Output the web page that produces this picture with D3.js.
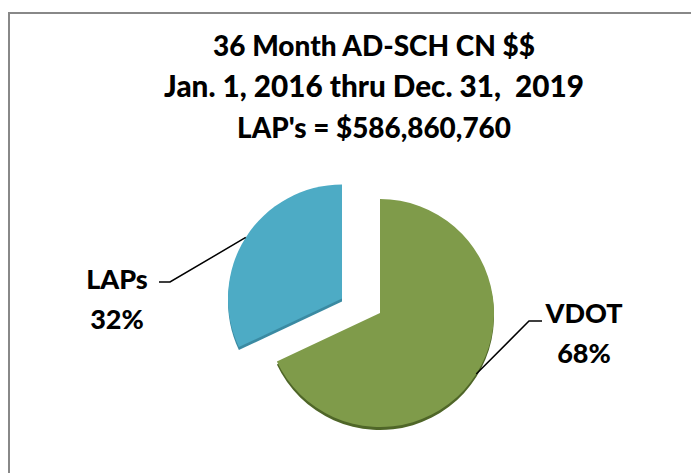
<!DOCTYPE html>
<html>
<head>
<meta charset="utf-8">
<script src="https://cdn.jsdelivr.net/npm/d3@7"></script>
<style>
  body { margin: 0; background: #fff; }
  text { font-family: Lato, "Open Sans", sans-serif; font-weight: 900; fill: #000; white-space: pre; }
</style>
</head>
<body>
<div id="container"></div>
<script>
/* CONSTANTS AND GLOBALS */
const width = 691,
  height = 473;

// DATA
const categories = ["VDOT", "LAPs"];
const shares = [68, 32];
const titleLines = ["36 Month AD-SCH CN $$", "Jan. 1, 2016 thru Dec. 31,  2019", "LAP's = $586,860,760"];

const data = categories.map((c, i) => ({ name: c, value: shares[i] }));

// layout
const cx = 380, cy = 313, radius = 114;
const explode = 45, tilt = 0.6;
const colors = { VDOT: "#7f9b4a", LAPs: "#4dabc5" };
const edgeColors = { VDOT: "#4f6628", LAPs: "#3a8aa2" };
const labelPos = {
  LAPs: { x: 117, y: 289, elbow: [170, 282], end: [159, 282] },
  VDOT: { x: 584, y: 323, elbow: [529, 321], end: [542, 321] }
};

// CREATE SVG ELEMENT
const svg = d3.select("#container")
  .append("svg")
  .attr("width", width)
  .attr("height", height);

// chart border (right/bottom run off the picture)
svg.append("path")
  .attr("d", `M9,${height + 5} L9,13 L${width + 5},13`)
  .attr("fill", "none")
  .attr("stroke", "#888")
  .attr("stroke-width", 2);

// TITLE
const titleWidths = [322, 420, 274];
svg.append("g")
  .selectAll("text")
  .data(titleLines)
  .join("text")
  .attr("x", 374)
  .attr("y", (d, i) => 56 + i * 41)
  .attr("text-anchor", "middle")
  .attr("font-size", 24)
  .text(d => d)
  .each(function (d, i) {
    const w = this.getComputedTextLength();
    this.setAttribute("font-size", 24 * titleWidths[i] / w);
  });

// PIE
const pie = d3.pie().sort(null).value(d => d.value);
const arcs = pie(data);
const arc = d3.arc().innerRadius(0).outerRadius(radius);

const offset = d => {
  if (d.data.name !== "LAPs") return [0, 0];
  const a = (d.startAngle + d.endAngle) / 2;
  return [Math.sin(a) * explode, -Math.cos(a) * explode * tilt];
};

const slices = svg.append("g")
  .attr("transform", `translate(${cx},${cy})`)
  .selectAll("g")
  .data(arcs)
  .join("g")
  .attr("transform", d => `translate(${offset(d)})`);

// dark edge to fake the 3D thickness
slices.append("path")
  .attr("d", arc)
  .attr("transform", "translate(0,3)")
  .attr("fill", d => edgeColors[d.data.name]);

slices.append("path")
  .attr("d", arc)
  .attr("fill", d => colors[d.data.name]);

// LEADER LINES AND LABELS
arcs.forEach(d => {
  const a = (d.startAngle + d.endAngle) / 2;
  const o = offset(d);
  const p = labelPos[d.data.name];
  const start = [cx + o[0] + Math.sin(a) * radius, cy + o[1] - Math.cos(a) * radius];
  svg.append("path")
    .attr("d", d3.line()([start, p.elbow, p.end]))
    .attr("fill", "none")
    .attr("stroke", "#000")
    .attr("stroke-width", 1.5);

  const t = svg.append("text")
    .attr("x", p.x)
    .attr("y", p.y)
    .attr("text-anchor", "middle")
    .attr("font-size", 27);
  t.append("tspan").attr("x", p.x).text(d.data.name);
  t.append("tspan").attr("x", p.x).attr("dy", 40).text(d3.format(".0%")(d.data.value / 100));
});
</script>
</body>
</html>
